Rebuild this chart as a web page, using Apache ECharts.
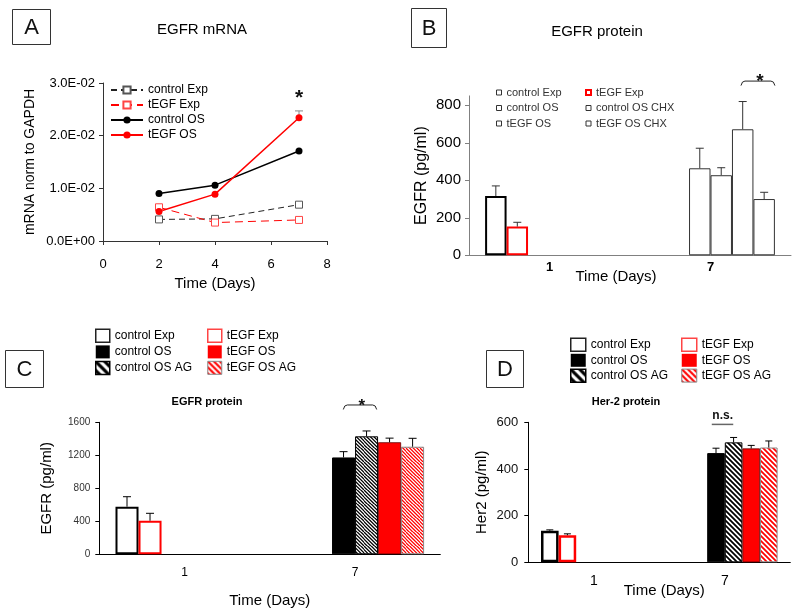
<!DOCTYPE html>
<html><head><meta charset="utf-8">
<script src="https://cdn.jsdelivr.net/npm/echarts@6/dist/echarts.min.js"></script>
<style>
html,body{margin:0;padding:0;background:#fff}
.pane{position:absolute;left:0;top:0;width:800px;height:615px}
</style>
</head><body>
<div id="pa" class="pane"></div><div id="pb" class="pane"></div>
<div id="pc" class="pane"></div><div id="pd" class="pane"></div>
<script>
// ---------------- DATA ----------------
// Panel A: EGFR mRNA (line chart)
const daysA = [2, 4, 7];
const aControlExp = [0.0041, 0.0042, 0.0069];
const aTegfExp    = [0.0064, 0.0035, 0.0040];
const aControlOS  = [0.0090, 0.0106, 0.0171];
const aTegfOS     = [0.0056, 0.0089, 0.0234];
const aTegfOSErr  = [0, 0, 0.0013];
const aYLabels = ['0.0E+00', '1.0E-02', '2.0E-02', '3.0E-02'];

// Shared day categories for B, C, D
const dayCats = ['1', '7'];

// Panel B: EGFR protein (pg/ml)
const bNames  = ['control Exp', 'tEGF Exp', 'control OS', 'control OS CHX', 'tEGF OS', 'tEGF OS CHX'];
const bControlExp    = [316, null];
const bTegfExp       = [153, null];
const bControlOS     = [null, 464];
const bControlOSCHX  = [null, 427];
const bTegfOS        = [null, 672];
const bTegfOSCHX     = [null, 300];
const bControlExpErr   = [54, null];
const bTegfExpErr      = [23, null];
const bControlOSErr    = [null, 107];
const bControlOSCHXErr = [null, 40];
const bTegfOSErr       = [null, 148];
const bTegfOSCHXErr    = [null, 36];
const bYTicks = [0, 200, 400, 600, 800];

// Panel C: EGFR protein (pg/ml) with AG
const cdNames = ['control Exp', 'tEGF Exp', 'control OS', 'control OS AG', 'tEGF OS', 'tEGF OS AG'];
const cControlExp   = [577, null];
const cTegfExp      = [407, null];
const cControlOS    = [null, 1174];
const cControlOSAG  = [null, 1430];
const cTegfOS       = [null, 1358];
const cTegfOSAG     = [null, 1304];
const cControlExpErr  = [121, null];
const cTegfExpErr     = [90, null];
const cControlOSErr   = [null, 70];
const cControlOSAGErr = [null, 65];
const cTegfOSErr      = [null, 50];
const cTegfOSAGErr    = [null, 102];

// Panel D: Her-2 protein (pg/ml)
const dControlExp   = [135, null];
const dTegfExp      = [116, null];
const dControlOS    = [null, 468];
const dControlOSAG  = [null, 514];
const dTegfOS       = [null, 488];
const dTegfOSAG     = [null, 492];
const dControlExpErr  = [4, null];
const dTegfExpErr     = [6, null];
const dControlOSErr   = [null, 21];
const dControlOSAGErr = [null, 21];
const dTegfOSErr      = [null, 13];
const dTegfOSAGErr    = [null, 28];

// ---------------- HELPERS ----------------
const FONT = '"Liberation Sans", Arial, sans-serif';
const RED = '#f00';

function hatch(fg, bg, P) {
  const c = document.createElement('canvas');
  c.width = P * 4; c.height = P * 4;
  const g = c.getContext('2d');
  g.fillStyle = bg; g.fillRect(0, 0, c.width, c.height);
  g.strokeStyle = fg; g.lineWidth = P / (2 * Math.SQRT2);
  g.beginPath();
  for (let k = -6; k <= 6; k++) {
    const o = k * P;
    g.moveTo(o - 4 * P, -4 * P); g.lineTo(o + 8 * P, 8 * P);
  }
  g.stroke();
  return { image: c, repeat: 'repeat' };
}

function boxLabel(letter, x, y, w, h) {
  return [
    { type: 'rect', shape: { x: x + 0.5, y: y + 0.5, width: w, height: h },
      style: { fill: '#fff', stroke: '#333', lineWidth: 1 } },
    { type: 'text', x: x + w / 2 + 0.5, y: y + h / 2 + 1,
      style: { text: letter, font: '22px ' + FONT, fill: '#111', textAlign: 'center', textVerticalAlign: 'middle' } }
  ];
}

function errData(vals, errs) {
  const out = [];
  vals.forEach((arr, s) => arr.forEach((v, c) => {
    if (v != null) out.push([c, s, v, errs[s][c]]);
  }));
  return out;
}

function slotX(api, cat, slot, gap, n) {
  const c = api.coord([cat, 0]);
  const band = api.size([1, 0])[0];
  const area = band * (1 - gap);
  return c[0] - area / 2 + slot * area / n;
}

function barErrSeries(vals, errs, gap, cap, color) {
  return {
    type: 'custom', silent: true, clip: false, z: 5,
    encode: { x: 0, y: 2 },
    data: errData(vals, errs),
    renderItem: function (params, api) {
      const cat = api.value(0), s = api.value(1), v = api.value(2), e = api.value(3);
      const x = slotX(api, cat, s + 0.5, gap, vals.length);
      const y0 = api.coord([cat, v])[1];
      const y1 = api.coord([cat, v + e])[1];
      return { type: 'group', children: [
        { type: 'line', shape: { x1: x, y1: y0, x2: x, y2: y1 }, style: { stroke: color, lineWidth: 1 } },
        { type: 'line', shape: { x1: x - cap / 2, y1: y1, x2: x + cap / 2, y2: y1 }, style: { stroke: color, lineWidth: 1 } }
      ] };
    }
  };
}

// annotation: bracket (or plain line) between slot positions with a text above
function annotSeries(cat, s1, s2, yv, txt, txtSlot, txtY, font, n, gap, kind) {
  return {
    type: 'custom', silent: true, clip: false, z: 6,
    encode: { x: 0, y: 1 },
    data: [[cat, yv]],
    renderItem: function (params, api) {
      const x1 = slotX(api, cat, s1, gap, n), x2 = slotX(api, cat, s2, gap, n);
      const y = api.coord([cat, yv])[1];
      const tx = slotX(api, cat, txtSlot, gap, n);
      const ty = api.coord([cat, txtY])[1];
      const children = [];
      if (kind === 'bracket') {
        children.push({ type: 'polyline', shape: { points: [[x1, y + 4.5], [x1 + 1.5, y + 1], [x1 + 4, y], [x2 - 4, y], [x2 - 1.5, y + 1], [x2, y + 4.5]] },
          style: { stroke: '#222', lineWidth: 1, fill: null } });
      } else {
        children.push({ type: 'line', shape: { x1: x1, y1: y, x2: x2, y2: y }, style: { stroke: '#666', lineWidth: 1.5 } });
      }
      children.push({ type: 'text', x: tx, y: ty,
        style: { text: txt, font: font, fill: '#111', textAlign: 'center', textVerticalAlign: 'middle' } });
      return { type: 'group', children: children };
    }
  };
}

function titleOf(text, cx, top, size, weight) {
  return { text: text, left: cx, top: top, textAlign: 'center', padding: 0,
    textStyle: { fontFamily: FONT, fontSize: size, fontWeight: weight, color: '#000' } };
}

// ---------------- PANEL A ----------------
const chartA = echarts.init(document.getElementById('pa'));
const axisCol = '#333';
chartA.setOption({
  animation: false,
  textStyle: { fontFamily: FONT },
  title: [titleOf('EGFR mRNA', 202, 22, 15, 'normal')],
  graphic: boxLabel('A', 12, 9, 38, 35),
  grid: { left: 103, top: 83, width: 224, height: 158 },
  xAxis: {
    type: 'value', min: 0, max: 8, interval: 2,
    axisLine: { lineStyle: { color: axisCol } },
    axisTick: { length: 4, lineStyle: { color: axisCol } },
    splitLine: { show: false },
    axisLabel: { fontSize: 13, margin: 17, color: '#000', fontFamily: FONT },
    name: 'Time (Days)', nameLocation: 'middle', nameGap: 35, nameMoveOverlap: false,
    nameTextStyle: { fontSize: 15, color: '#000', fontFamily: FONT }
  },
  yAxis: {
    type: 'value', min: 0, max: 0.03, interval: 0.01,
    axisLine: { show: true, lineStyle: { color: axisCol } },
    axisTick: { show: true, length: 4, lineStyle: { color: axisCol } },
    splitLine: { show: false },
    axisLabel: { fontSize: 13, margin: 8, color: '#000', fontFamily: FONT, formatter: (v, i) => aYLabels[i] },
    name: 'mRNA norm to GAPDH', nameLocation: 'middle', nameGap: 66, nameMoveOverlap: false,
    nameTextStyle: { fontSize: 14, color: '#000', fontFamily: FONT }
  },
  legend: {
    left: 110, top: 84, padding: 0, orient: 'vertical', itemWidth: 32, itemHeight: 9, itemGap: 3,
    textStyle: { fontSize: 12, color: '#000', fontFamily: FONT },
    data: ['control Exp', 'tEGF Exp', 'control OS', 'tEGF OS']
  },
  series: [
    { name: 'control Exp', type: 'line', data: daysA.map((d, i) => [d, aControlExp[i]]),
      symbol: 'rect', symbolSize: 7, lineStyle: { color: '#222', width: 1, type: [6, 4] },
      itemStyle: { color: '#fff', borderColor: '#555', borderWidth: 1 } },
    { name: 'tEGF Exp', type: 'line', data: daysA.map((d, i) => [d, aTegfExp[i]]),
      symbol: 'rect', symbolSize: 7, lineStyle: { color: RED, width: 1, type: [8, 5] },
      itemStyle: { color: '#fff', borderColor: '#f44', borderWidth: 1 } },
    { name: 'control OS', type: 'line', data: daysA.map((d, i) => [d, aControlOS[i]]),
      symbol: 'circle', symbolSize: 7, lineStyle: { color: '#000', width: 1.5 },
      itemStyle: { color: '#000' } },
    { name: 'tEGF OS', type: 'line', data: daysA.map((d, i) => [d, aTegfOS[i]]),
      symbol: 'circle', symbolSize: 7, lineStyle: { color: RED, width: 1.5 },
      itemStyle: { color: RED } },
    { type: 'custom', silent: true, clip: false, z: 1,
      encode: { x: 0, y: 1 },
      data: daysA.map((d, i) => [d, aTegfOS[i], aTegfOSErr[i]]).filter(r => r[2] > 0),
      renderItem: function (params, api) {
        const p0 = api.coord([api.value(0), api.value(1)]);
        const p1 = api.coord([api.value(0), api.value(1) + api.value(2)]);
        return { type: 'group', children: [
          { type: 'line', shape: { x1: p0[0], y1: p0[1], x2: p1[0], y2: p1[1] }, style: { stroke: '#888', lineWidth: 1 } },
          { type: 'line', shape: { x1: p1[0] - 4, y1: p1[1], x2: p1[0] + 4, y2: p1[1] }, style: { stroke: '#888', lineWidth: 1 } }
        ] };
      } },
    { type: 'custom', silent: true, clip: false, z: 6,
      encode: { x: 0, y: 1 },
      data: [[7, 0.0272]],
      renderItem: function (params, api) {
        const p = api.coord([api.value(0), api.value(1)]);
        return { type: 'text', x: p[0], y: p[1],
          style: { text: '*', font: 'bold 21px ' + FONT, fill: '#111', textAlign: 'center', textVerticalAlign: 'middle' } };
      } }
  ]
});

// ---------------- PANEL B ----------------
const chartB = echarts.init(document.getElementById('pb'));
const bVals = [bControlExp, bTegfExp, bControlOS, bControlOSCHX, bTegfOS, bTegfOSCHX];
const bErrs = [bControlExpErr, bTegfExpErr, bControlOSErr, bControlOSCHXErr, bTegfOSErr, bTegfOSCHXErr];
const bStyles = [
  { color: '#fff', borderColor: '#000', borderWidth: 2 },
  { color: '#fff', borderColor: RED, borderWidth: 2 },
  { color: '#fff', borderColor: '#333', borderWidth: 1 },
  { color: '#fff', borderColor: '#333', borderWidth: 1 },
  { color: '#fff', borderColor: '#333', borderWidth: 1 },
  { color: '#fff', borderColor: '#333', borderWidth: 1 }
];
const bGap = 0.2;
const bLegIcon = { color: '#fff', borderColor: '#333', borderWidth: 1 };
const bLegendBase = { orient: 'vertical', top: 87, padding: 0, itemWidth: 5, itemHeight: 5, itemGap: 4.5, icon: 'rect',
  textStyle: { fontSize: 11, color: '#333', fontFamily: FONT } };
chartB.setOption({
  animation: false,
  textStyle: { fontFamily: FONT },
  title: [titleOf('EGFR protein', 597, 24, 15, 'normal')],
  graphic: boxLabel('B', 411, 8, 35, 39),
  grid: { left: 469, top: 95.9, width: 322, height: 159.4 },
  xAxis: {
    type: 'category', data: dayCats,
    axisLine: { lineStyle: { color: '#808080' } },
    axisTick: { length: 4, lineStyle: { color: '#808080' } },
    axisLabel: { fontSize: 13, fontWeight: 'bold', margin: 6, color: '#000', fontFamily: FONT },
    name: 'Time (Days)', nameLocation: 'middle', nameGap: 14, nameMoveOverlap: false,
    nameTextStyle: { fontSize: 15, color: '#000', fontFamily: FONT, padding: [0, 28, 0, 0] }
  },
  yAxis: {
    type: 'value', min: 0, max: 850,
    axisLine: { show: true, lineStyle: { color: '#808080' } },
    axisTick: { show: true, length: 4, lineStyle: { color: '#808080' }, customValues: bYTicks },
    axisLabel: { fontSize: 15, margin: 8, color: '#000', fontFamily: FONT, customValues: bYTicks },
    splitLine: { show: false },
    name: 'EGFR (pg/ml)', nameLocation: 'middle', nameGap: 39, nameMoveOverlap: false,
    nameTextStyle: { fontSize: 16, color: '#000', fontFamily: FONT }
  },
  legend: [
    Object.assign({ left: 496, data: [
      { name: 'control Exp', itemStyle: bLegIcon },
      { name: 'control OS', itemStyle: bLegIcon },
      { name: 'tEGF OS', itemStyle: bLegIcon }] }, bLegendBase),
    Object.assign({ left: 585, data: [
      { name: 'tEGF Exp', itemStyle: { color: '#fff', borderColor: RED, borderWidth: 2 } },
      { name: 'control OS CHX', itemStyle: bLegIcon },
      { name: 'tEGF OS CHX', itemStyle: bLegIcon }] }, bLegendBase)
  ],
  series: bNames.map((n, i) => ({
    name: n, type: 'bar', data: bVals[i], barGap: '0%', barCategoryGap: (bGap * 100) + '%',
    itemStyle: bStyles[i]
  })).concat([
    barErrSeries(bVals, bErrs, bGap, 8, '#333'),
    annotSeries(1, 4.42, 6.0, 929, '*', 5.3, 925, 'bold 19px ' + FONT, 6, bGap, 'bracket')
  ])
});

// ---------------- PANEL C ----------------
const chartC = echarts.init(document.getElementById('pc'));
const hatchBlackC = hatch('#000', '#fff', 3.6);
const hatchRedC = hatch(RED, '#fff', 3.6);
const cVals = [cControlExp, cTegfExp, cControlOS, cControlOSAG, cTegfOS, cTegfOSAG];
const cErrs = [cControlExpErr, cTegfExpErr, cControlOSErr, cControlOSAGErr, cTegfOSErr, cTegfOSAGErr];
const cStyles = [
  { color: '#fff', borderColor: '#000', borderWidth: 2 },
  { color: '#fff', borderColor: RED, borderWidth: 2 },
  { color: '#000', borderColor: '#000', borderWidth: 1 },
  { color: hatchBlackC, borderColor: '#000', borderWidth: 1 },
  { color: RED, borderColor: '#600', borderWidth: 0.8 },
  { color: hatchRedC, borderColor: '#888', borderWidth: 1 }
];
const cGap = 0.19;
function cdLegends(l1, l2, top, iw, ih, gap, legHatchK, legHatchR) {
  const base = { orient: 'vertical', top: top, padding: 0, itemWidth: iw, itemHeight: ih, itemGap: gap, icon: 'rect',
    textStyle: { fontSize: 12, color: '#000', fontFamily: FONT } };
  return [
    Object.assign({ left: l1, data: [
      { name: 'control Exp', itemStyle: { color: '#fff', borderColor: '#222', borderWidth: 1.5 } },
      { name: 'control OS', itemStyle: { color: '#000', borderColor: '#000', borderWidth: 0 } },
      { name: 'control OS AG', itemStyle: { color: legHatchK, borderColor: '#000', borderWidth: 1.5 } }] }, base),
    Object.assign({ left: l2, data: [
      { name: 'tEGF Exp', itemStyle: { color: '#fff', borderColor: '#f44', borderWidth: 1.5 } },
      { name: 'tEGF OS', itemStyle: { color: RED, borderColor: RED, borderWidth: 0 } },
      { name: 'tEGF OS AG', itemStyle: { color: legHatchR, borderColor: '#888', borderWidth: 1 } }] }, base)
  ];
}
chartC.setOption({
  animation: false,
  textStyle: { fontFamily: FONT },
  title: [titleOf('EGFR protein', 207, 396, 11, 'bold')],
  graphic: boxLabel('C', 5, 350, 38, 37),
  legend: cdLegends(95, 207, 328.5, 14, 13, 2.4, hatch('#000', '#fff', 9), hatch(RED, '#fff', 6)),
  grid: { left: 99.3, top: 422.3, width: 341, height: 132 },
  xAxis: {
    type: 'category', data: dayCats,
    axisLine: { lineStyle: { color: '#000' } },
    axisTick: { length: 5, lineStyle: { color: '#000' } },
    axisLabel: { fontSize: 12, margin: 12, color: '#000', fontFamily: FONT },
    name: 'Time (Days)', nameLocation: 'middle', nameGap: 39, nameMoveOverlap: false,
    nameTextStyle: { fontSize: 15, color: '#000', fontFamily: FONT }
  },
  yAxis: {
    type: 'value', min: 0, max: 1600, interval: 400,
    axisLine: { show: true, lineStyle: { color: '#000' } },
    axisTick: { show: true, length: 4, lineStyle: { color: '#000' } },
    axisLabel: { fontSize: 10, margin: 9, color: '#333', fontFamily: FONT, formatter: v => String(v) },
    splitLine: { show: false },
    name: 'EGFR (pg/ml)', nameLocation: 'middle', nameGap: 45, nameMoveOverlap: false,
    nameTextStyle: { fontSize: 15, color: '#000', fontFamily: FONT }
  },
  series: cdNames.map((n, i) => ({
    name: n, type: 'bar', data: cVals[i], barGap: '0%', barCategoryGap: (cGap * 100) + '%',
    itemStyle: cStyles[i]
  })).concat([
    barErrSeries(cVals, cErrs, cGap, 8, '#000'),
    annotSeries(1, 2.49, 3.94, 1810, '*', 3.29, 1790, 'bold 17px ' + FONT, 6, cGap, 'bracket')
  ])
});

// ---------------- PANEL D ----------------
const chartD = echarts.init(document.getElementById('pd'));
const hatchBlackD = hatch('#000', '#fff', 5);
const hatchRedD = hatch(RED, '#fff', 5);
const dVals = [dControlExp, dTegfExp, dControlOS, dControlOSAG, dTegfOS, dTegfOSAG];
const dErrs = [dControlExpErr, dTegfExpErr, dControlOSErr, dControlOSAGErr, dTegfOSErr, dTegfOSAGErr];
const dStyles = [
  { color: '#fff', borderColor: '#000', borderWidth: 2.5 },
  { color: '#fff', borderColor: RED, borderWidth: 2.5 },
  { color: '#000', borderColor: '#000', borderWidth: 1 },
  { color: hatchBlackD, borderColor: '#000', borderWidth: 1 },
  { color: RED, borderColor: '#600', borderWidth: 0.8 },
  { color: hatchRedD, borderColor: '#888', borderWidth: 1 }
];
const dGap = 0.194;
chartD.setOption({
  animation: false,
  textStyle: { fontFamily: FONT },
  title: [titleOf('Her-2 protein', 626, 396, 11, 'bold')],
  graphic: boxLabel('D', 486, 350, 37, 37),
  legend: cdLegends(570, 681, 337.5, 15, 13, 1.8, hatch('#000', '#fff', 9), hatch(RED, '#fff', 6)),
  grid: { left: 528.3, top: 422.3, width: 262, height: 140 },
  xAxis: {
    type: 'category', data: dayCats,
    axisLine: { lineStyle: { color: '#000' } },
    axisTick: { length: 5, lineStyle: { color: '#000' } },
    axisLabel: { fontSize: 14, margin: 12, color: '#000', fontFamily: FONT },
    name: 'Time (Days)', nameLocation: 'middle', nameGap: 21, nameMoveOverlap: false,
    nameTextStyle: { fontSize: 15, color: '#000', fontFamily: FONT, padding: [0, 0, 0, 10] }
  },
  yAxis: {
    type: 'value', min: 0, max: 600, interval: 200,
    axisLine: { show: true, lineStyle: { color: '#000' } },
    axisTick: { show: true, length: 4, lineStyle: { color: '#000' } },
    axisLabel: { fontSize: 13, margin: 10, color: '#111', fontFamily: FONT },
    splitLine: { show: false },
    name: 'Her2 (pg/ml)', nameLocation: 'middle', nameGap: 39, nameMoveOverlap: false,
    nameTextStyle: { fontSize: 15, color: '#000', fontFamily: FONT }
  },
  series: cdNames.map((n, i) => ({
    name: n, type: 'bar', data: dVals[i], barGap: '0%', barCategoryGap: (dGap * 100) + '%',
    itemStyle: dStyles[i]
  })).concat([
    barErrSeries(dVals, dErrs, dGap, 7, '#000'),
    annotSeries(1, 2.26, 3.48, 591, 'n.s.', 2.88, 630, 'bold 12px ' + FONT, 6, dGap, 'line')
  ])
});
</script>
</body></html>
